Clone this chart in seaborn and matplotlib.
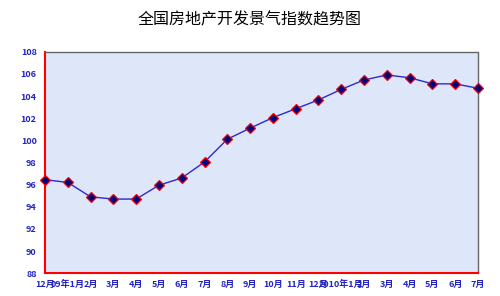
import matplotlib
matplotlib.use("Agg")
import matplotlib.pyplot as plt
import seaborn as sns
import pandas as pd
import numpy as np

months = ["12月", "09年1月", "2月", "3月", "4月", "5月", "6月", "7月", "8月", "9月",
          "10月", "11月", "12月", "2010年1月", "2月", "3月", "4月", "5月", "6月", "7月"]
index_values = [96.45, 96.2, 94.9, 94.7, 94.7, 95.95, 96.6, 98.05, 100.1, 101.1,
                102.05, 102.85, 103.65, 104.6, 105.45, 105.9, 105.65, 105.1, 105.1, 104.7]
y_ticks = [88, 90, 92, 94, 96, 98, 100, 102, 104, 106, 108]
title = "全国房地产开发景气指数趋势图"

sns.set_theme(style="white")
plt.rcParams['font.family'] = ['Noto Sans CJK SC', 'DejaVu Sans']

df = pd.DataFrame({"pos": np.arange(len(months)), "value": index_values})

fig = plt.figure(figsize=(5, 2.96), dpi=100)
ax = fig.add_axes([0.09, 0.0767, 0.866, 0.7486])
ax.set_facecolor("#dde7f9")

sns.lineplot(data=df, x="pos", y="value", ax=ax, color="#2a2ad0", linewidth=1.0,
             marker="D", markersize=5, markerfacecolor="#000080",
             markeredgecolor="#ff0000", markeredgewidth=0.9, clip_on=False, zorder=5)

ax.set_xlim(0, len(months) - 1)
ax.set_ylim(88, 108)
ax.set_xticks(df["pos"])
ax.set_xticklabels(months)
ax.set_yticks(y_ticks)
ax.set_yticklabels([str(t) for t in y_ticks])
ax.set_xlabel("")
ax.set_ylabel("")

lab_color = "#2424c0"
ax.tick_params(axis="both", direction="in", colors="#ff0000", length=3, width=1,
               labelcolor=lab_color, labelsize=6.5, pad=5)
ax.tick_params(axis="y", pad=6)
for lab in ax.get_xticklabels() + ax.get_yticklabels():
    lab.set_fontweight("bold")

for side in ["left", "bottom"]:
    ax.spines[side].set_color("#ff0000")
    ax.spines[side].set_linewidth(1.5)
for side in ["top", "right"]:
    ax.spines[side].set_color("#666666")
    ax.spines[side].set_linewidth(1.0)
    ax.spines[side].set_linestyle((0, (1, 1)))

fig.text(0.5, 0.932, title, ha="center", va="center", fontsize=11.5, color="black")

fig.savefig("out.png", dpi=100)
